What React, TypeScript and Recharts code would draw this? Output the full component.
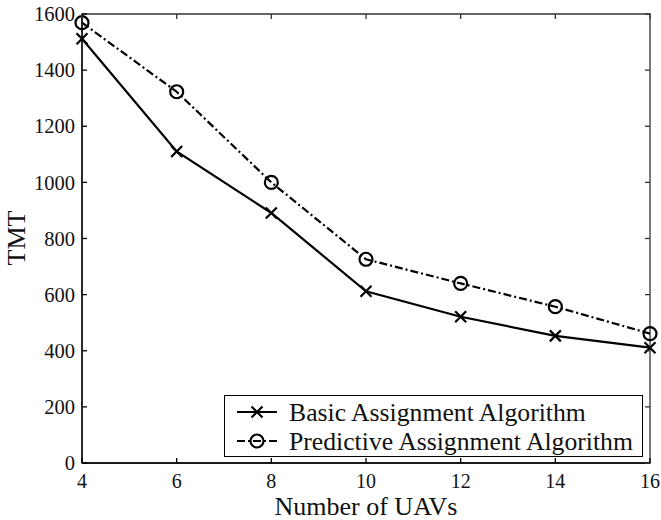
import React from "react";
import { LineChart, Line, XAxis, YAxis, ReferenceArea, Legend } from "recharts";

const uavCounts = [4, 6, 8, 10, 12, 14, 16];
const basicTmt = [1512, 1110, 891, 612, 521, 453, 411];
const predictiveTmt = [1569, 1323, 1000, 726, 640, 557, 461];
const xTicks = [4, 6, 8, 10, 12, 14, 16];
const yTicks = [0, 200, 400, 600, 800, 1000, 1200, 1400, 1600];
const seriesNames = ["Basic Assignment Algorithm", "Predictive Assignment Algorithm"];

const data = uavCounts.map((n, i) => ({
  uavs: n,
  basic: basicTmt[i],
  predictive: predictiveTmt[i],
}));

const W = 661;
const H = 520;
const L = 82;
const T = 14;
const R = 650;
const B = 463;
const FONT = '"Liberation Serif", "Times New Roman", serif';
const DASH_DOT = "8 3 2 3";

function Cross({ cx, cy }: any) {
  if (cx == null || cy == null) return null;
  const s = 5.5;
  return (
    <path
      d={`M${cx - s},${cy - s}L${cx + s},${cy + s}M${cx - s},${cy + s}L${cx + s},${cy - s}`}
      stroke="#000"
      strokeWidth={2.2}
      fill="none"
    />
  );
}

function Ring({ cx, cy }: any) {
  if (cx == null || cy == null) return null;
  return <circle cx={cx} cy={cy} r={6.5} stroke="#000" strokeWidth={2.2} fill="none" />;
}

function XTick({ payload }: any) {
  const x = payload.coordinate;
  return (
    <g>
      <line x1={x} x2={x} y1={B} y2={B - 5} stroke="#000" strokeWidth={1.3} />
      <line x1={x} x2={x} y1={T} y2={T + 5} stroke="#333" strokeWidth={1.3} />
      <text x={x} y={B + 25} textAnchor="middle" fontSize={20} fontFamily={FONT} fill="#111">
        {payload.value}
      </text>
    </g>
  );
}

function YTick({ payload }: any) {
  const y = payload.coordinate;
  return (
    <g>
      <line x1={L} x2={L + 5} y1={y} y2={y} stroke="#000" strokeWidth={1.3} />
      <line x1={R} x2={R - 5} y1={y} y2={y} stroke="#333" strokeWidth={1.3} />
      <text x={L - 7} y={y} dy="0.35em" textAnchor="end" fontSize={20.5} fontFamily={FONT} fill="#111">
        {payload.value}
      </text>
    </g>
  );
}

function LegendBox() {
  const rows = [
    { name: seriesNames[0], dash: undefined, marker: "x" },
    { name: seriesNames[1], dash: DASH_DOT, marker: "o" },
  ];
  return (
    <svg width={420} height={63} style={{ display: "block" }}>
      <rect x={0.5} y={0.5} width={418} height={61} fill="#fff" stroke="#000" strokeWidth={1} />
      {rows.map((r, i) => {
        const cy = 17 + i * 29;
        return (
          <g key={r.name}>
            <line x1={13} x2={53} y1={cy} y2={cy} stroke="#000" strokeWidth={2} strokeDasharray={r.dash} />
            {r.marker === "x" ? <Cross cx={33} cy={cy} /> : <Ring cx={33} cy={cy} />}
            <text x={65} y={cy + 9} fontSize={25.7} fontFamily={FONT} fill="#111">
              {r.name}
            </text>
          </g>
        );
      })}
    </svg>
  );
}

export default function App() {
  return (
    <div style={{ position: "absolute", left: 0, top: 0, width: W, height: H, background: "#fff" }}>
      <LineChart
        width={W}
        height={H}
        data={data}
        margin={{ top: T, right: W - R, left: 0, bottom: 0 }}
        style={{ fontFamily: FONT }}
      >
        <XAxis
          dataKey="uavs"
          type="number"
          domain={[4, 16]}
          ticks={xTicks}
          interval={0}
          height={H - B}
          tickLine={false}
          axisLine={{ stroke: "#000", strokeWidth: 1.3 }}
          tick={<XTick />}
          label={{
            content: () => (
              <text x={(L + R) / 2} y={515} textAnchor="middle" fontSize={26} fontFamily={FONT} fill="#111">
                Number of UAVs
              </text>
            ),
          }}
        />
        <YAxis
          type="number"
          domain={[0, 1600]}
          ticks={yTicks}
          interval={0}
          width={L}
          tickLine={false}
          axisLine={{ stroke: "#000", strokeWidth: 1.3 }}
          tick={<YTick />}
          label={{
            content: () => (
              <text
                x={16}
                y={238}
                transform="rotate(-90 16 238)"
                textAnchor="middle"
                dominantBaseline="central"
                fontSize={26}
                fontFamily={FONT}
                fill="#111"
              >
                TMT
              </text>
            ),
          }}
        />
        <ReferenceArea x1={4} x2={16} y1={0} y2={1600} fill="none" stroke="#333" strokeWidth={1.3} />
        <Line
          dataKey="basic"
          name={seriesNames[0]}
          stroke="#000"
          strokeWidth={2.2}
          dot={<Cross />}
          activeDot={false}
          isAnimationActive={false}
        />
        <Line
          dataKey="predictive"
          name={seriesNames[1]}
          stroke="#000"
          strokeWidth={2.2}
          strokeDasharray={DASH_DOT}
          dot={<Ring />}
          activeDot={false}
          isAnimationActive={false}
        />
        <Legend
          layout="vertical"
          align="center"
          verticalAlign="middle"
          content={() => <LegendBox />}
          wrapperStyle={{ left: 224, top: 395, width: 420, height: 63 }}
        />
      </LineChart>
    </div>
  );
}
